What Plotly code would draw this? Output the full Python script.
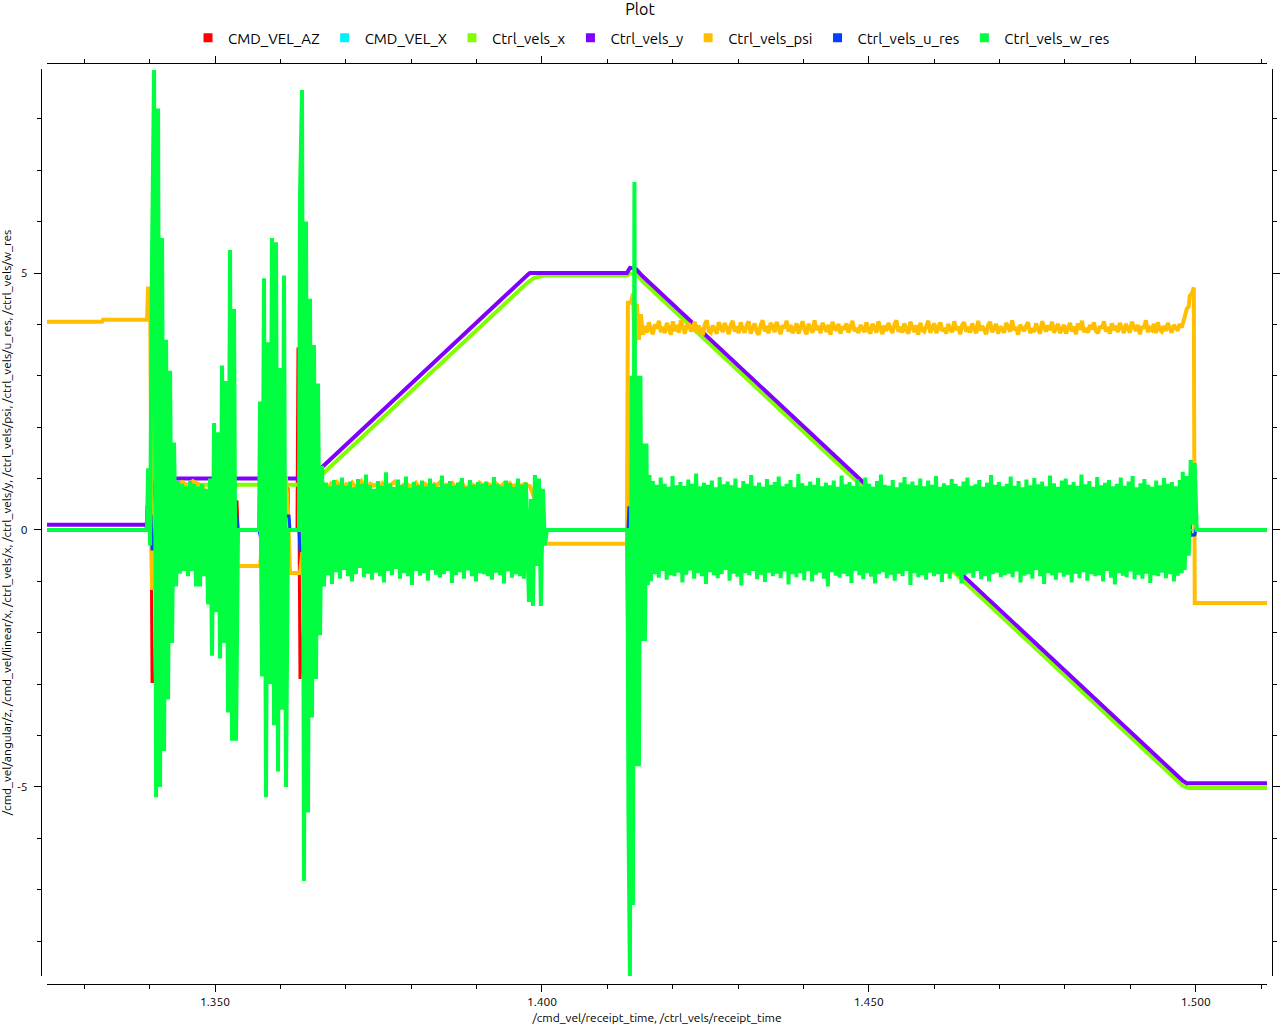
import numpy as np
import plotly.graph_objects as go

# ---------------- data ----------------
T_START = 1.3243
T_END = 1.5109

# CMD_VEL_AZ (/cmd_vel/angular/z)
az_t = [T_START, 1.33945, 1.33960, 1.34021, 1.34037, 1.34083, 1.34098, 1.35153, 1.35168, 1.35199,
        1.35336, 1.35352, 1.35673, 1.35688, 1.35719, 1.35749, 1.35780, 1.36086, 1.36116, 1.36131,
        1.36254, 1.36269, 1.36300, 1.36345, 1.36391, 1.39832, 1.39847, 1.39863, 1.39954, 1.40000,
        1.40015, 1.41300, 1.41315, 1.41346, 1.49862, 1.49878, 1.49908, 1.49924, 1.49985, 1.50000, T_END]
az_v = [0.0, 0.0, 0.45, 0.45, -2.95, -2.95, 0.3, 0.3, 1.77, 0.55,
        0.55, 0.0, 0.0, 1.36, -1.5, -1.5, 0.3, 0.8, 0.8, 0.0,
        0.0, 3.55, -2.9, -2.0, 0.2, 0.2, 0.45, -0.55, -0.35, -0.35,
        0.0, 0.0, -3.07, 0.0, 0.0, 0.72, 0.72, -0.1, -0.1, 0.0, 0.0]

# CMD_VEL_X (/cmd_vel/linear/x)
vx_t = [T_START, T_END]
vx_v = [0.0, 0.0]

# Ctrl_vels_x
cx_t = [T_START, 1.33960, 1.34006, 1.34100, 1.36453, 1.36636, 1.39786, 1.39878, 1.40000, 1.40061,
        1.41300, 1.41346, 1.41437, 1.41529, 1.49801, 1.49893, T_END]
cx_v = [0.0, 0.0, 0.4, 0.88, 0.88, 1.08, 4.82, 4.9, 4.94, 4.95,
        4.95, 4.98, 5.0, 4.85, -4.98, -5.02, -5.02]

# Ctrl_vels_y
cy_t = [T_START, 1.33960, 1.34006, 1.34100, 1.36453, 1.36636, 1.39786, 1.39817, 1.41300, 1.41346,
        1.41437, 1.41529, 1.49801, 1.49862, T_END]
cy_v = [0.1, 0.1, 0.5, 1.0, 1.0, 1.22, 4.97, 5.0, 5.0, 5.1,
        5.08, 4.95, -4.88, -4.93, -4.93]

# Ctrl_vels_psi
psi_head_t = [T_START, 1.33272, 1.33287, 1.33960, 1.33976, 1.34006, 1.34037, 1.34067, 1.34190, 1.34419,
              1.34500, 1.34580, 1.34660, 1.34740, 1.34817, 1.34893, 1.34969, 1.35306, 1.35336, 1.35688,
              1.35719, 1.35780, 1.36086, 1.36116, 1.36147, 1.36300, 1.36330, 1.36500, 1.36606]
psi_head_v = [4.05, 4.05, 4.09, 4.09, 4.7, 4.7, -1.13, -1.13, -0.5, 0.88,
              0.93, 0.86, 0.95, 0.9, 0.85, 0.5, 0.15, -0.3, -0.7, -0.7,
              -0.3, 0.9, 1.0, 0.4, -0.84, -0.84, -0.5, 0.6, 0.95]
psi_band1_span = (1.36682, 1.39786)
psi_band1 = [0.88, 0.82, 0.9, 0.84, 0.93, 0.86, 0.8, 0.89, 0.85, 0.92,
             0.83, 0.87, 0.95, 0.84, 0.81, 0.9, 0.86, 0.88, 0.83, 0.91,
             0.85, 0.8, 0.89, 0.94, 0.86, 0.82, 0.88, 0.9, 0.84, 0.87,
             0.92, 0.83, 0.86, 0.9, 0.85, 0.81, 0.89, 0.87, 0.93, 0.84,
             0.88, 0.86, 0.91, 0.83, 0.87, 0.94, 0.85, 0.8, 0.9, 0.86,
             0.84, 0.92, 0.88, 0.82, 0.89, 0.85, 0.93, 0.87, 0.83, 0.9,
             0.86, 0.91, 0.84, 0.88, 0.85, 0.87, 0.9, 0.86]
psi_mid_t = [1.39817, 1.39878, 1.39939, 1.40031, 1.40061, 1.41300, 1.41315, 1.41361, 1.41391, 1.41422,
             1.41453, 1.41483, 1.41514, 1.41544]
psi_mid_v = [0.85, 0.64, 0.2, -0.2, -0.27, -0.27, 4.42, 4.42, 4.6, 3.6,
             4.4, 3.7, 4.2, 3.8]
psi_band2_span = (1.41575, 1.49786)
psi_band2 = [3.97, 3.84, 4.04, 3.89, 3.81, 4.0, 3.92, 4.07, 3.85, 3.95,
             3.83, 4.03, 3.9, 3.8, 4.06, 3.87, 3.99, 3.84, 4.08, 3.92,
             3.82, 3.98, 4.02, 3.86, 3.94, 4.05, 3.83, 3.97, 3.89, 3.79,
             4.0, 4.08, 3.87, 3.84, 3.98, 3.9, 3.82, 4.04, 3.93, 3.85,
             4.03, 3.89, 3.81, 3.99, 4.07, 3.86, 3.96, 3.83, 4.04, 3.92,
             3.84, 3.98, 4.06, 3.82, 3.93, 4.02, 3.86, 3.8, 3.99, 4.08,
             3.87, 3.92, 3.83, 4.03, 3.96, 3.85, 4.05, 3.89, 3.81, 3.98,
             3.93, 4.07, 3.86, 3.99, 3.83, 3.9, 4.02, 3.82, 3.96, 4.06,
             3.89, 3.81, 4.01, 3.93, 3.84, 4.08, 3.89, 3.97, 3.83, 4.03,
             3.92, 3.86, 3.99, 3.8, 4.05, 3.93, 3.88, 4.01, 3.82, 3.96,
             3.9, 4.02, 3.84, 3.98, 4.07, 3.87, 3.93, 3.83, 3.99, 3.92,
             3.85, 4.04, 3.89, 3.82, 4.01, 3.94, 3.84, 4.06, 3.9, 3.81,
             3.98, 3.87, 4.03, 3.92, 3.83, 3.99, 4.08, 3.86, 3.95, 3.84,
             4.02, 3.9, 3.82, 4.05, 3.93, 3.85, 3.98, 3.8, 4.03, 3.89,
             3.86, 3.99, 4.07, 3.84, 3.92, 4.02, 3.83, 3.95, 4.04, 3.87,
             3.93, 3.82, 4.01, 3.9, 3.85, 4.06, 3.89, 3.96, 3.81, 3.99,
             4.04, 3.86, 3.95, 3.84, 4.02, 3.92, 3.83, 4.07, 3.88, 3.97,
             3.89, 3.81, 3.99, 4.05, 3.85, 3.93, 4.01, 3.82, 3.96, 3.9,
             3.84, 4.03, 3.92, 3.86, 4.08, 3.89, 3.95, 3.8, 3.99, 3.93,
             3.87, 3.97, 4.04, 3.83, 3.92, 3.85, 4.02, 3.9, 3.82, 4.06,
             3.95, 3.86, 3.98, 3.89, 4.05, 3.84, 3.93, 4.01, 3.83, 3.91,
             3.99, 3.82, 3.92, 4.03, 3.86, 3.96, 3.81, 4.02, 3.89, 4.07,
             3.85, 3.93, 3.84, 3.99, 3.9, 4.04, 3.87, 3.83, 3.97, 3.92,
             4.06, 3.86, 3.95, 3.82, 4.02, 3.89, 3.97, 3.85, 4.03, 3.93,
             3.83, 4.01, 3.9, 3.84, 4.05, 3.95, 3.87, 3.99, 3.81, 3.96,
             3.92, 4.08, 3.85, 3.93, 3.89, 4.01, 3.83, 4.04, 3.9, 3.86,
             3.97, 3.87, 4.03, 3.92, 3.84, 3.99, 3.93, 3.88, 4.01, 3.94]
psi_tail_t = [1.49832, 1.49862, 1.49893, 1.49908, 1.49939, 1.49970, 1.49985, T_END]
psi_tail_v = [4.15, 4.3, 4.35, 4.55, 4.6, 4.72, -1.42, -1.42]

# Ctrl_vels_u_res
ur_t = [T_START, 1.33976, 1.33991, 1.34021, 1.34037, 1.34067, 1.34083, 1.35291, 1.35306, 1.35336,
        1.35352, 1.35673, 1.35703, 1.35749, 1.35765, 1.36086, 1.36131, 1.36147, 1.36284, 1.36300,
        1.36345, 1.36361, 1.39832, 1.39847, 1.39878, 1.39908, 1.40000, 1.40031, 1.40061, 1.41315,
        1.41330, 1.41361, 1.41376, 1.49862, 1.49878, 1.49985, 1.50000, T_END]
ur_v = [0.0, 0.0, 0.27, 0.27, -0.37, -0.37, 0.0, 0.0, 0.27, 0.27,
        0.0, 0.0, -0.2, -0.2, 0.0, 0.27, 0.27, 0.0, 0.0, -0.4,
        -0.4, 0.0, 0.0, 0.17, 0.17, 0.0, -0.1, -0.1, 0.0, 0.0,
        0.43, 0.43, 0.0, 0.0, -0.1, -0.1, 0.0, 0.0]

# Ctrl_vels_w_res
w_head_t = [T_START, 1.33960]
w_head_v = [0.0, 0.0]
w_chaos1_span = (1.33976, 1.35352)
w_chaos1 = [1.2, -0.3, 5.45, 8.95, -5.2, 8.2, -5.0, 5.68, -4.3, 3.7,
            -3.3, 3.1, -2.2, 1.7, -1.1, 0.95, -0.85, 0.9, -0.8, 0.85,
            -0.9, 0.95, -0.8, 0.9, -1.1, 0.85, -1.1, 0.9, -0.9, 0.8,
            -1.45, 1.0, -2.45, 2.08, -1.6, 1.9, -2.5, 3.2, -2.2, 2.9,
            -3.55, 5.45, -4.1, 4.3, -4.1, 0.0]
w_gap1_t = [1.35673]
w_chaos2_span = (1.35688, 1.36116)
w_chaos2 = [2.5, -2.85, 4.9, -5.2, 3.65, -3.0, 5.68, -3.8, 5.6, -4.7,
            3.15, -3.5, 4.95, -5.0, 0.0]
w_gap2_t = [1.36284]
w_chaos3_span = (1.36300, 1.36667)
w_chaos3 = [6.55, 8.56, -6.83, 6.0, -5.5, 4.5, -3.65, 3.6, -2.9, 2.85,
            -2.05, 1.25, -1.1]
w_band1_span = (1.36697, 1.39786)
w_band1 = [0.92, -0.88, 0.85, -1.05, 0.97, -0.82, 0.88, -0.95, 1.02, -0.78,
           0.86, -0.9, 0.94, -1.0, 0.83, -0.86, 0.99, -0.74, 0.9, -0.92,
           1.08, -0.85, 0.87, -0.97, 0.8, -0.83, 0.95, -0.9, 0.86, -1.02,
           1.12, -0.8, 0.91, -0.88, 0.84, -0.76, 0.98, -0.95, 0.88, -0.84,
           1.04, -0.9, 0.82, -1.07, 0.93, -0.8, 0.87, -0.89, 0.96, -0.84,
           0.85, -0.99, 1.0, -0.78, 0.9, -0.87, 0.84, -0.93, 1.06, -0.86,
           0.89, -0.8, 0.95, -1.03, 0.86, -0.88, 0.92, -0.82, 1.01, -0.95,
           0.84, -0.79, 0.97, -0.9, 0.88, -1.0, 0.93, -0.84, 0.9, -0.86,
           0.94, -0.9, 0.87, -0.97, 1.03, -0.83, 0.89, -0.88, 0.85, -1.04,
           0.96, -0.81, 0.91, -0.93, 0.84, -0.86, 1.0, -0.9, 0.88, -0.95,
           0.92, -0.85]
w_band1end_span = (1.39801, 1.40076)
w_band1end = [-1.4, 0.6, -1.48, 1.07, -0.7, 1.0, -1.48, 0.8, -0.3, 0.0]
w_gap3_t = [1.41307]
w_spike_span = (1.41323, 1.41667)
w_spike = [-5.5, -8.7, 3.0, -7.3, 6.77, -4.6, 3.0, -4.6, 3.0, -2.16,
           1.68, -2.16, 1.68, -1.07, 1.07, -1.0]
w_band2_span = (1.41697, 1.49786)
w_band2 = [0.95, -0.86, 0.88, -0.93, 1.02, -0.8, 0.9, -0.97, 0.84, -0.88,
           1.05, -0.9, 0.87, -0.83, 0.93, -1.02, 0.86, -0.87, 0.98, -0.79,
           0.9, -0.95, 1.1, -0.84, 0.85, -0.9, 0.92, -1.05, 0.88, -0.82,
           0.96, -0.88, 0.83, -0.94, 1.03, -0.86, 0.89, -0.78, 0.94, -0.99,
           0.87, -0.85, 1.0, -0.91, 0.82, -1.08, 0.95, -0.84, 0.9, -0.88,
           1.07, -0.8, 0.86, -0.96, 0.92, -0.87, 0.84, -1.01, 0.99, -0.83,
           0.88, -0.9, 0.93, -0.85, 1.04, -0.94, 0.85, -0.81, 0.9, -1.06,
           0.97, -0.86, 0.83, -0.92, 1.09, -0.84, 0.91, -0.98, 0.86, -0.8,
           0.94, -1.0, 0.88, -0.87, 1.01, -0.83, 0.85, -0.95, 0.92, -1.1,
           0.87, -0.82, 0.96, -0.89, 0.84, -0.93, 1.06, -0.85, 0.89, -0.9,
           0.93, -1.03, 0.86, -0.8, 0.98, -0.88, 0.85, -0.96, 1.02, -0.84,
           0.9, -0.91, 0.84, -1.04, 0.95, -0.86, 1.08, -0.82, 0.88, -0.94,
           0.86, -0.87, 0.97, -0.99, 0.83, -0.85, 0.92, -0.9, 1.03, -0.8,
           0.89, -1.07, 0.94, -0.84, 0.87, -0.92, 1.0, -0.88, 0.85, -0.97,
           0.96, -0.83, 0.88, -0.9, 1.05, -0.86, 0.84, -1.01, 0.91, -0.85,
           0.87, -0.95, 0.99, -0.82, 0.9, -0.89, 0.85, -1.04, 0.94, -0.87,
           1.02, -0.84, 0.86, -0.93, 0.89, -0.8, 0.97, -0.96, 0.84, -0.9,
           0.92, -1.0, 1.07, -0.86, 0.88, -0.83, 0.93, -0.92, 0.85, -0.88,
           0.9, -0.85, 1.04, -0.92, 0.86, -0.81, 0.95, -1.02, 0.83, -0.89,
           0.98, -0.86, 0.87, -0.95, 1.01, -0.78, 0.89, -0.9, 0.94, -1.05,
           0.85, -0.84, 1.06, -0.88, 0.91, -0.97, 0.84, -0.83, 0.96, -0.91,
           1.0, -0.87, 0.88, -1.02, 0.93, -0.85, 0.86, -0.94, 1.08, -0.82,
           0.89, -0.99, 0.95, -0.86, 0.84, -0.9, 1.03, -0.88, 0.87, -1.0,
           0.92, -0.8, 0.97, -0.93, 0.85, -1.06, 0.9, -0.84, 1.02, -0.89,
           0.86, -0.92, 0.94, -0.81, 1.05, -0.96, 0.83, -0.87, 0.91, -0.95,
           0.99, -0.85, 0.88, -1.03, 0.84, -0.88, 0.96, -0.9, 0.87, -0.83,
           1.01, -0.94, 0.9, -0.86, 0.93, -1.0, 0.85, -0.89, 0.97, -0.84]
w_band2end_span = (1.49801, 1.50015)
w_band2end = [1.13, -0.78, 1.05, -0.5, 1.36, 0.1, 1.3, 0.0]
w_tail_t = [T_END]
w_tail_v = [0.0]

x_tickvals = [1.35, 1.40, 1.45, 1.50]
x_ticktext = ["1.350", "1.400", "1.450", "1.500"]
y_tickvals = [-5, 0, 5]
y_ticktext = ["-5", "0", "5"]

series_names = ["CMD_VEL_AZ", "CMD_VEL_X", "Ctrl_vels_x", "Ctrl_vels_y",
                "Ctrl_vels_psi", "Ctrl_vels_u_res", "Ctrl_vels_w_res"]
series_colors = ["#ff0000", "#00f0ff", "#80ff00", "#8000ff",
                 "#ffbf00", "#0040ff", "#00ff40"]
series_widths = [3, 2, 4, 4, 4, 3, 4]


# ---------------- assemble sampled series ----------------
def sampled(span, vals):
    return list(np.linspace(span[0], span[1], len(vals))), list(vals)


def concat(parts):
    t, v = [], []
    for pt, pv in parts:
        t += list(pt)
        v += list(pv)
    return t, v


psi_t, psi_v = concat([
    (psi_head_t, psi_head_v),
    sampled(psi_band1_span, psi_band1),
    (psi_mid_t, psi_mid_v),
    sampled(psi_band2_span, psi_band2),
    (psi_tail_t, psi_tail_v),
])

w_t, w_v = concat([
    (w_head_t, w_head_v),
    sampled(w_chaos1_span, w_chaos1),
    (w_gap1_t, [0.0]),
    sampled(w_chaos2_span, w_chaos2),
    (w_gap2_t, [0.0]),
    sampled(w_chaos3_span, w_chaos3),
    sampled(w_band1_span, w_band1),
    sampled(w_band1end_span, w_band1end),
    (w_gap3_t, [0.0]),
    sampled(w_spike_span, w_spike),
    sampled(w_band2_span, w_band2),
    sampled(w_band2end_span, w_band2end),
    (w_tail_t, w_tail_v),
])

data = [(az_t, az_v), (vx_t, vx_v), (cx_t, cx_v), (cy_t, cy_v),
        (psi_t, psi_v), (ur_t, ur_v), (w_t, w_v)]

FONT = "Ubuntu, 'Noto Sans', 'DejaVu Sans', sans-serif"

fig = go.Figure()
for name, color, width, (t, v) in zip(series_names, series_colors, series_widths, data):
    fig.add_trace(go.Scatter(x=t, y=v, mode="lines", name=name, legendgroup=name,
                             showlegend=False, line=dict(color=color, width=width),
                             hoverinfo="skip"))
# legend entries (square swatches); they live on the mirrored top/right axes
for name, color in zip(series_names, series_colors):
    fig.add_trace(go.Scatter(x=[None], y=[None], mode="markers", name=name,
                             legendgroup=name, xaxis="x2", yaxis="y2",
                             marker=dict(symbol="square", size=9, color=color)))

X_RANGE = [T_START, T_END]
Y_RANGE = [-8.68, 8.97]

common_x = dict(range=X_RANGE, autorange=False, tickmode="array", tickvals=x_tickvals,
                showgrid=False, zeroline=False, showline=True, linecolor="black",
                linewidth=1, ticks="outside", ticklen=7, tickcolor="black",
                minor=dict(tickmode="linear", tick0=1.35, dtick=0.01, ticks="outside",
                           ticklen=4, tickcolor="black"),
                domain=[0.00487, 0.99594], anchor="free", automargin=False)
common_y = dict(range=Y_RANGE, autorange=False, tickmode="array", tickvals=y_tickvals,
                showgrid=False, zeroline=False, showline=True, linecolor="black",
                linewidth=1, ticks="outside", ticklen=7, tickcolor="black",
                minor=dict(tickmode="linear", tick0=0, dtick=1, ticks="outside",
                           ticklen=4, tickcolor="black"),
                domain=[0.00869, 0.99349], anchor="free", automargin=False)

fig.update_layout(
    width=1280, height=1024,
    margin=dict(l=41, r=8, t=63, b=40, autoexpand=False),
    paper_bgcolor="white", plot_bgcolor="white",
    font=dict(family=FONT, size=12, color="black"),
    title=dict(text="Plot", x=0.5, xanchor="center", y=1 - 9 / 1024, yanchor="middle",
               yref="container", font=dict(size=16, color="black", family=FONT)),
    legend=dict(orientation="h", x=0.509, xanchor="center", xref="container",
                y=1 - 38 / 1024, yanchor="middle", yref="container",
                font=dict(size=15, color="black", family=FONT),
                bgcolor="rgba(0,0,0,0)", itemwidth=30, tracegroupgap=0),
    xaxis=dict(**common_x, position=0, side="bottom", ticktext=x_ticktext,
               tickfont=dict(size=12), ticklabelstandoff=0,
               title=dict(text="/cmd_vel/receipt_time, /ctrl_vels/receipt_time",
                          font=dict(size=12), standoff=6)),
    xaxis2=dict(**common_x, position=1, side="top", overlaying="x", matches="x",
                showticklabels=False),
    yaxis=dict(**common_y, position=0, side="left", ticktext=y_ticktext,
               tickfont=dict(size=12), ticklabelstandoff=4,
               title=dict(text="/cmd_vel/angular/z, /cmd_vel/linear/x, /ctrl_vels/x, /ctrl_vels/y, "
                               "/ctrl_vels/psi, /ctrl_vels/u_res, /ctrl_vels/w_res",
                          font=dict(size=12), standoff=3)),
    yaxis2=dict(**common_y, position=1, side="right", overlaying="y", matches="y",
                showticklabels=False),
    hovermode=False,
)

fig.write_html("out.html")
